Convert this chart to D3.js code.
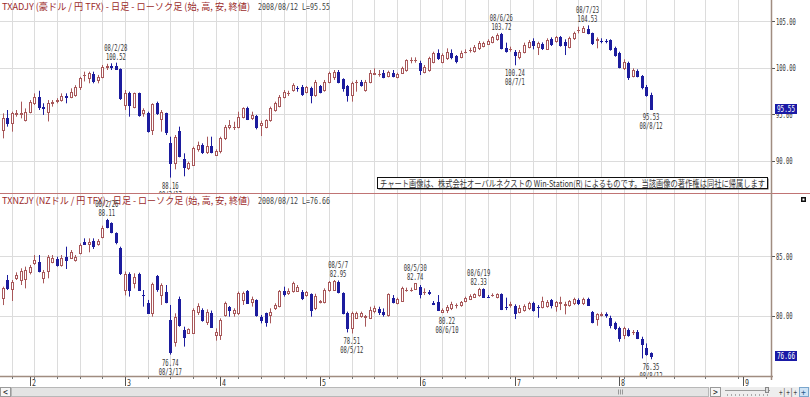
<!DOCTYPE html>
<html>
<head>
<meta charset="utf-8">
<script src="https://cdn.jsdelivr.net/npm/d3@7"></script>
<style>
  body { margin: 0; background: #fff; }
  svg { display: block; }
</style>
</head>
<body>
<div id="wrapper"></div>
<script>
// ---- data ----
// AUD/JPY daily candles, 2008/01/24 .. 2008/08/12 (trading day index 0..143)
const audOpen = [93.28,94.53,94.0,95.0,95.05,94.35,95.25,96.15,96.86,95.79,95.25,96.15,96.45,96.5,96.9,96.86,97.05,97.85,99.2,98.84,99.3,98.66,99.01,100.1,100.15,100.15,99.8,95.97,97.3,95.79,97.22,95.07,95.07,93.28,96.22,94.43,95.07,91.92,89.7,93.21,90.12,89.16,89.52,91.2,91.67,90.95,91.56,90.6,91.06,92.38,93.57,93.6,93.64,94.71,95.61,94.53,94.79,93.82,93.64,94.35,95.43,95.86,96.86,97.25,97.58,97.8,97.87,97.4,97.83,97.04,98.0,97.58,98.48,99.01,99.55,98.73,98.0,97.04,98.4,98.48,97.58,98.48,99.3,99.3,99.37,99.08,99.44,99.01,99.44,99.73,100.8,100.8,100.52,99.55,99.73,100.63,101.52,100.63,100.99,101.52,101.23,101.16,101.7,101.85,101.81,102.06,102.31,102.53,102.78,103.03,103.6,102.06,101.95,101.7,101.09,101.7,102.24,102.89,102.24,102.53,101.95,103.03,102.88,103.24,102.78,102.24,103.14,104.0,103.85,104.18,103.67,103.0,102.9,102.88,102.96,102.06,101.6,99.91,100.52,99.08,99.66,99.08,97.87,97.04];
const audHigh = [95.07,95.43,95.25,95.43,96.33,95.6,96.5,97.22,97.5,96.15,96.5,96.5,96.7,97.22,97.22,97.76,98.1,99.0,99.55,99.55,99.55,99.2,100.27,100.4,100.45,100.52,99.9,97.58,97.4,97.3,97.3,95.61,95.25,96.15,96.33,95.43,95.14,92.56,92.74,93.64,90.77,89.88,91.49,92.03,91.85,92.56,92.56,91.2,92.56,93.82,94.35,94.17,95.25,95.72,95.79,95.25,94.9,94.28,94.43,95.79,96.33,97.04,97.58,97.5,98.3,98.0,98.12,98.0,97.94,98.66,98.12,98.66,99.55,99.73,99.73,98.84,98.12,98.48,98.66,98.66,98.66,99.73,99.91,99.73,99.73,99.66,99.73,99.44,100.09,100.88,101.09,101.09,100.73,100.27,101.16,101.7,101.95,101.52,102.06,101.95,101.34,101.81,101.95,102.13,102.42,102.85,102.78,103.03,103.39,103.67,103.72,102.67,102.24,101.88,101.88,102.67,102.96,103.14,102.78,102.7,103.14,103.24,103.39,103.39,103.03,103.32,103.85,104.39,104.46,104.53,103.75,103.24,103.14,103.06,103.03,102.24,101.7,100.88,100.63,99.91,99.8,99.19,98.12,97.29];
const audLow = [92.38,93.64,93.1,94.71,94.53,94.2,95.07,95.97,95.43,94.9,94.2,95.79,96.15,96.33,96.15,96.7,96.86,97.58,98.5,98.3,98.3,98.3,98.84,99.73,99.73,99.73,96.51,95.43,94.71,95.61,94.71,94.71,93.0,92.74,94.9,93.1,92.74,88.16,89.05,90.34,88.3,88.98,89.41,90.95,90.7,90.7,90.77,90.48,90.77,92.2,93.35,93.28,93.46,94.53,94.35,94.35,93.35,92.63,93.46,94.17,95.25,95.72,96.68,96.94,97.4,97.4,96.94,97.22,96.15,96.86,97.22,97.4,98.3,98.66,98.3,97.4,96.33,96.33,97.4,97.94,97.4,98.3,99.19,99.01,98.84,98.94,98.94,98.84,99.3,99.55,100.45,100.52,99.19,99.37,99.55,100.45,100.81,100.45,100.81,100.88,100.45,100.99,101.52,101.6,101.6,101.88,102.17,102.42,102.6,102.88,101.95,101.6,101.7,100.24,100.88,101.52,102.06,101.95,101.34,101.88,101.88,102.31,102.67,102.24,101.34,102.06,102.96,103.67,103.75,103.57,102.42,102.06,102.6,102.6,101.81,101.16,99.91,99.73,98.66,98.94,98.94,97.65,96.86,95.53];
const audClose = [94.53,94.0,95.07,95.07,95.1,95.25,96.33,96.86,95.79,95.65,96.15,96.33,96.5,96.95,96.86,97.4,97.94,98.84,99.2,99.37,98.6,99.01,100.09,100.15,100.1,99.85,96.68,97.3,95.97,97.22,94.9,95.43,93.21,96.08,95.07,95.25,93.1,89.7,92.49,90.48,89.34,89.7,91.31,91.67,90.95,91.56,90.95,91.06,92.38,93.64,93.82,93.64,94.71,95.61,94.43,94.9,93.64,94.07,94.35,95.61,96.15,96.86,97.4,97.3,98.12,97.76,97.15,97.87,97.04,98.48,97.4,98.48,99.37,99.55,98.48,97.76,97.04,98.3,98.48,98.12,98.48,99.37,99.37,99.3,99.01,99.55,99.08,99.3,99.91,100.81,100.81,100.81,99.73,100.09,100.99,101.52,100.99,101.34,101.7,101.09,100.73,101.59,101.7,101.88,102.24,102.67,102.6,102.88,103.24,103.53,102.06,101.81,101.95,101.34,101.7,102.42,102.78,102.42,102.6,102.06,102.96,102.53,103.24,102.42,102.42,103.14,103.75,104.03,104.21,103.67,102.67,103.03,102.89,102.85,101.95,101.34,100.09,100.63,99.01,99.73,99.08,97.94,97.04,95.55];

// NZD/JPY daily candles, same days
const nzdOpen = [81.45,82.99,82.23,83.18,82.99,83.07,83.63,84.39,84.53,83.13,83.74,84.53,84.75,84.25,84.94,84.86,84.66,85.22,86.2,85.98,86.26,85.98,86.62,88.02,87.74,86.9,85.7,82.15,83.5,82.71,83.5,81.75,81.1,80.26,83.33,81.74,82.02,79.64,77.83,81.37,78.8,78.58,78.53,80.34,80.48,79.5,80.26,78.39,78.39,80.06,80.7,80.2,80.2,81.32,82.1,81.18,81.32,79.92,80.2,80.06,80.62,80.81,82.1,81.93,82.1,82.1,82.01,81.73,81.79,80.61,81.12,81.12,82.15,82.15,82.85,81.87,80.2,78.94,79.83,80.0,79.92,79.83,80.39,80.56,80.34,80.06,81.51,81.03,81.23,82.12,82.15,82.23,82.43,82.0,81.96,81.03,81.12,80.28,80.47,80.61,80.89,80.89,81.23,81.4,81.59,81.73,82.23,81.6,81.71,81.59,81.79,80.77,80.93,80.84,80.28,80.47,80.61,81.03,80.77,80.75,80.84,81.28,80.84,81.1,80.93,80.89,81.03,81.34,81.03,81.4,80.28,79.72,80.09,80.12,79.83,79.36,78.99,78.38,78.8,78.6,78.6,78.04,77.26,76.85];
const nzdHigh = [82.43,83.41,82.99,83.63,83.97,84.11,84.25,85.08,85.08,83.83,85.08,85.08,84.94,85.08,85.78,85.5,85.08,86.06,86.48,86.48,86.48,86.42,87.54,88.11,87.82,86.98,85.78,83.7,83.63,83.55,83.6,82.15,81.32,82.77,83.41,82.71,82.57,80.9,80.2,81.6,79.08,78.94,80.62,81.04,80.62,80.53,80.43,78.94,79.78,81.18,80.81,80.62,82.02,82.02,82.15,81.6,81.37,80.06,80.26,80.62,81.04,82.15,82.43,82.29,82.85,82.57,82.15,82.07,81.87,81.84,81.31,82.29,82.9,82.99,82.95,81.96,80.34,80.34,80.34,80.34,80.06,80.75,80.84,80.75,80.61,81.87,81.73,81.51,82.43,82.35,82.35,82.74,82.57,82.29,82.15,81.23,81.73,80.61,80.89,81.17,81.03,81.23,81.59,81.79,81.87,82.33,82.29,81.73,81.87,81.87,81.87,81.51,81.17,80.95,80.89,80.95,81.17,81.17,80.89,81.59,81.31,81.4,81.23,81.59,81.17,81.31,81.51,81.45,81.51,81.51,80.39,80.2,80.28,80.28,80.0,79.5,79.08,79.08,78.94,78.8,78.8,78.24,77.68,76.93];
const nzdLow = [80.89,82.15,81.23,82.99,82.57,82.29,83.46,84.25,83.63,82.71,83.13,84.39,84.11,84.11,83.91,84.75,84.53,85.14,85.92,85.31,85.59,85.87,86.48,87.32,86.9,85.98,83.41,81.7,81.6,82.29,82.1,80.76,80.2,79.92,82.0,80.9,81.04,76.74,77.41,79.08,77.41,78.47,78.47,80.06,79.5,79.22,79.03,77.91,77.97,79.92,79.92,79.92,80.06,80.9,81.0,80.76,79.92,79.36,79.08,79.36,80.48,80.7,81.6,81.74,81.93,82.01,81.31,81.59,79.92,80.47,81.03,81.03,82.01,82.07,81.87,80.11,78.6,78.51,79.72,79.83,79.08,79.72,80.2,80.06,79.92,79.92,81.03,80.95,81.17,82.01,82.01,82.15,81.45,81.73,81.73,80.89,80.39,80.3,80.22,80.47,80.61,80.75,81.12,81.31,81.51,81.59,81.51,81.51,81.59,81.45,80.47,80.47,80.67,79.72,80.2,80.34,80.47,80.34,79.83,80.61,80.67,80.61,80.34,80.47,80.11,80.75,80.89,80.89,80.89,80.84,79.36,79.16,79.92,79.83,78.94,78.8,77.82,78.04,78.24,78.38,78.04,76.42,76.65,76.35];
const nzdClose = [82.29,82.29,82.79,83.41,83.74,83.83,84.11,84.66,83.74,83.63,84.94,84.8,84.25,84.86,84.66,85.31,84.94,85.92,86.01,86.2,85.87,86.26,87.37,87.46,87.04,86.2,83.55,83.5,82.15,83.27,82.15,81.73,80.26,82.66,82.21,82.57,81.18,76.99,79.92,79.22,78.25,78.86,80.48,80.81,79.64,80.34,79.08,78.67,79.64,81.04,80.48,80.48,81.87,81.87,81.04,81.37,80.06,79.64,79.5,80.34,80.9,82.1,81.82,82.1,82.71,82.43,81.51,81.96,80.47,81.68,81.23,82.15,82.79,82.9,82.01,80.2,78.99,80.2,80.2,80.2,79.95,80.47,80.61,80.28,80.11,81.79,81.17,81.4,82.35,82.15,82.18,82.71,81.79,82.01,81.93,81.0,80.47,80.47,80.75,80.95,80.92,81.12,81.45,81.68,81.79,82.23,81.59,81.59,81.73,81.79,80.56,80.75,80.95,80.2,80.67,80.84,81.03,80.47,80.75,81.23,81.17,80.89,81.12,81.12,80.95,81.23,81.37,81.03,81.4,80.89,79.44,80.11,80.11,80.09,79.22,78.99,78.16,78.99,78.38,78.6,78.16,77.6,76.76,76.66];

// high / low markers
const audNoteIndex = [25, 37, 110, 113, 129, 143];
const audNoteSide = ["high", "low", "high", "low", "high", "low"];
const audNoteDate = ["08/2/28", "08/3/17", "08/6/26", "08/7/1", "08/7/23", "08/8/12"];
const nzdNoteIndex = [23, 37, 74, 77, 91, 98, 105, 143];
const nzdNoteSide = ["high", "low", "high", "low", "high", "low", "high", "low"];
const nzdNoteDate = ["08/2/26", "08/3/17", "08/5/7", "08/5/12", "08/5/30", "08/6/10", "08/6/19", "08/8/12"];

// price axis ticks
const audTicks = [90, 95, 100, 105];
const nzdTicks = [80, 85];

// time axis: month labels at the first trading day of each month, week grid on mondays
const monthLabels = ["2", "3", "4", "5", "6", "7", "8", "9"];
const monthIndex = [6, 27, 48, 70, 92, 113, 136, 163.3];
const weekIndex = d3.range(2, 143, 5).concat([148.1, 155, 162.2]);

const audTitle = "TXADJY (豪ドル / 円 TFX) - 日足 - ローソク足 (始, 高, 安, 終値)";
const nzdTitle = "TXNZJY (NZドル / 円 TFX) - 日足 - ローソク足 (始, 高, 安, 終値)";
const lastDate = "2008/08/12";
const notice = "チャート画像は、株式会社オーバルネクストの Win-Station(R) によるものです。当該画像の著作権は同社に帰属します";

// ---- layout ----
let dimensions = {
  width: 810,
  height: 397,
  axisX: 771,
  split: 193,
  bottom: 376
}

const upColor = "#a8585a";
const downColor = "#1c1c9e";
const gridColor = "#dcdcdc";
const axisColor = "#a08c80";
const monoFont = "'DejaVu Sans Mono', monospace";
const jpFont = "'Noto Sans CJK JP', sans-serif";

let wrapper = d3.select("#wrapper").append("svg")
  .attr("width", dimensions.width)
  .attr("height", dimensions.height)
  .style("background", "#fff");

const xScale = d3.scaleLinear().domain([0, 143]).range([2.5, 651]);

const panels = [
  {
    name: "aud", top: 0, bottom: dimensions.split,
    y: d3.scaleLinear().domain([90, 105]).range([160.5, 21]),
    open: audOpen, high: audHigh, low: audLow, close: audClose,
    ticks: audTicks, title: audTitle, titleY: 10,
    noteIndex: audNoteIndex, noteSide: audNoteSide, noteDate: audNoteDate
  },
  {
    name: "nzd", top: dimensions.split + 0.5, bottom: dimensions.bottom,
    y: d3.scaleLinear().domain([80, 85]).range([315.7, 256]),
    open: nzdOpen, high: nzdHigh, low: nzdLow, close: nzdClose,
    ticks: nzdTicks, title: nzdTitle, titleY: 204,
    noteIndex: nzdNoteIndex, noteSide: nzdNoteSide, noteDate: nzdNoteDate
  }
];

const defs = wrapper.append("defs");

function monoText(sel, str, size) {
  return sel.text(str)
    .style("font-family", monoFont)
    .style("font-size", (size || 9.5) + "px")
    .attr("textLength", str.length * 3.3)
    .attr("lengthAdjust", "spacingAndGlyphs");
}

function drawPanel(p) {
  defs.append("clipPath").attr("id", "clip-" + p.name)
    .append("rect")
    .attr("x", 0).attr("y", p.top)
    .attr("width", dimensions.axisX).attr("height", p.bottom - p.top);

  const g = wrapper.append("g").attr("clip-path", `url(#clip-${p.name})`);

  // grid
  g.selectAll("line.vgrid").data(weekIndex).join("line")
    .attr("class", "vgrid")
    .attr("x1", d => Math.round(xScale(d)) + 0.5)
    .attr("x2", d => Math.round(xScale(d)) + 0.5)
    .attr("y1", p.top).attr("y2", p.bottom)
    .attr("stroke", gridColor);
  g.selectAll("line.hgrid").data(p.ticks).join("line")
    .attr("class", "hgrid")
    .attr("x1", 0).attr("x2", dimensions.axisX)
    .attr("y1", d => Math.round(p.y(d)) + 0.5)
    .attr("y2", d => Math.round(p.y(d)) + 0.5)
    .attr("stroke", gridColor);

  // title
  const title = g.append("text")
    .attr("x", 2).attr("y", p.titleY)
    .attr("fill", "#9b2b2b")
    .style("font-family", jpFont)
    .style("font-size", "9.5px")
    .attr("textLength", 248)
    .attr("lengthAdjust", "spacingAndGlyphs")
    .text(p.title);
  const last = p.close[p.close.length - 1].toFixed(2);
  monoText(g.append("text"), `${lastDate} L=${last}`)
    .attr("x", 258).attr("y", p.titleY)
    .attr("fill", "#444")
    .attr("textLength", 72);

  // candles
  const idx = d3.range(p.open.length);
  const candle = g.selectAll("g.candle").data(idx).join("g").attr("class", "candle");
  const colorOf = i => p.close[i] >= p.open[i] ? upColor : downColor;
  candle.append("line")
    .attr("x1", i => Math.round(xScale(i)) + 0.5)
    .attr("x2", i => Math.round(xScale(i)) + 0.5)
    .attr("y1", i => p.y(p.high[i]))
    .attr("y2", i => p.y(p.low[i]))
    .attr("stroke", colorOf);
  candle.append("rect")
    .attr("x", i => Math.round(xScale(i)) - 0.5)
    .attr("width", 2)
    .attr("y", i => Math.round(p.y(Math.max(p.open[i], p.close[i]))) + 0.5)
    .attr("height", i => Math.max(0.01, Math.round(p.y(Math.min(p.open[i], p.close[i]))) - Math.round(p.y(Math.max(p.open[i], p.close[i])))))
    .attr("fill", i => p.close[i] >= p.open[i] ? "#fff" : downColor)
    .attr("stroke", colorOf)
    .attr("stroke-width", 1);

  // high / low notes
  p.noteIndex.forEach((i, k) => {
    const cx = xScale(i);
    const isHigh = p.noteSide[k] === "high";
    const price = (isHigh ? p.high[i] : p.low[i]).toFixed(2);
    const py = p.y(isHigh ? p.high[i] : p.low[i]);
    const lines = isHigh ? [p.noteDate[k], price] : [price, p.noteDate[k]];
    const ys = isHigh ? [py - 12, py - 3] : [py + 11, py + 20];
    lines.forEach((str, j) => {
      monoText(g.append("text"), str)
        .attr("x", cx).attr("y", ys[j])
        .attr("text-anchor", "middle")
        .attr("fill", "#333");
    });
  });

  // price axis
  const ax = wrapper.append("g");
  ax.selectAll("line").data(p.ticks).join("line")
    .attr("x1", dimensions.axisX).attr("x2", dimensions.axisX + 4)
    .attr("y1", d => Math.round(p.y(d)) + 0.5)
    .attr("y2", d => Math.round(p.y(d)) + 0.5)
    .attr("stroke", "#555");
  ax.selectAll("text").data(p.ticks).join("text")
    .each(function (d) { monoText(d3.select(this), d.toFixed(2)); })
    .attr("x", dimensions.axisX + 5)
    .attr("y", d => p.y(d) + 3.5)
    .attr("fill", "#333");

  // last price tag
  const ly = p.y(+last);
  ax.append("rect")
    .attr("x", dimensions.axisX + 4).attr("y", Math.round(ly) - 5)
    .attr("width", 22).attr("height", 10)
    .attr("fill", "#1a1aa6");
  monoText(ax.append("text"), last)
    .attr("x", dimensions.axisX + 6).attr("y", ly + 3.5)
    .attr("fill", "#fff")
    .attr("textLength", 18);
}

panels.forEach(drawPanel);

// notice box
wrapper.append("rect")
  .attr("x", 378.5).attr("y", 178.5).attr("width", 390).attr("height", 11)
  .attr("fill", "#555");
wrapper.append("rect")
  .attr("x", 377.5).attr("y", 177.5).attr("width", 390).attr("height", 11)
  .attr("fill", "#fff").attr("stroke", "#111");
wrapper.append("text")
  .attr("x", 380).attr("y", 186.5)
  .attr("fill", "#333")
  .style("font-family", jpFont)
  .style("font-size", "9px")
  .attr("textLength", 385)
  .attr("lengthAdjust", "spacingAndGlyphs")
  .text(notice);

// frame lines
wrapper.append("line")
  .attr("x1", 0).attr("x2", dimensions.width)
  .attr("y1", dimensions.split + 0.5).attr("y2", dimensions.split + 0.5)
  .attr("stroke", "#c07474");
wrapper.append("line")
  .attr("x1", 0).attr("x2", dimensions.axisX + 2)
  .attr("y1", dimensions.bottom + 0.5).attr("y2", dimensions.bottom + 0.5)
  .attr("stroke", axisColor).attr("stroke-width", 1.5);
wrapper.append("line")
  .attr("x1", dimensions.axisX + 0.5).attr("x2", dimensions.axisX + 0.5)
  .attr("y1", 0).attr("y2", dimensions.bottom + 4)
  .attr("stroke", axisColor).attr("stroke-width", 1.5);

// small square icon
wrapper.append("rect").attr("x", 801).attr("y", 197).attr("width", 5).attr("height", 5).attr("fill", "#111");
wrapper.append("rect").attr("x", 802.5).attr("y", 198.5).attr("width", 2).attr("height", 2).attr("fill", "#fff");

// time axis
const tAxis = wrapper.append("g");
tAxis.selectAll("line.week").data(weekIndex).join("line")
  .attr("class", "week")
  .attr("x1", d => Math.round(xScale(d)) + 0.5)
  .attr("x2", d => Math.round(xScale(d)) + 0.5)
  .attr("y1", dimensions.bottom + 1).attr("y2", dimensions.bottom + 3)
  .attr("stroke", "#777");
tAxis.selectAll("line.month").data(monthIndex).join("line")
  .attr("class", "month")
  .attr("x1", d => Math.round(xScale(d)) + 0.5)
  .attr("x2", d => Math.round(xScale(d)) + 0.5)
  .attr("y1", dimensions.bottom + 1).attr("y2", dimensions.bottom + 10)
  .attr("stroke", "#555");
tAxis.selectAll("text").data(monthLabels).join("text")
  .attr("x", (d, i) => Math.round(xScale(monthIndex[i])) + 2)
  .attr("y", dimensions.bottom + 9.5)
  .attr("fill", "#333")
  .style("font-family", monoFont)
  .style("font-size", "9px")
  .attr("textLength", 4)
  .attr("lengthAdjust", "spacingAndGlyphs")
  .text(d => d);

// scroll bar
const bar = wrapper.append("g");
bar.append("rect").attr("x", 0).attr("y", 387).attr("width", 810).attr("height", 10).attr("fill", "#eeeeee");
bar.append("rect").attr("x", 0.5).attr("y", 387.5).attr("width", 10).attr("height", 9)
  .attr("fill", "#f6f6f6").attr("stroke", "#9a9a9a");
bar.append("text").attr("x", 3).attr("y", 395).attr("fill", "#222")
  .style("font-family", monoFont).style("font-size", "8px").text("<");
bar.append("rect").attr("x", 11.5).attr("y", 387.5).attr("width", 697).attr("height", 9)
  .attr("fill", "#e4e4e4").attr("stroke", "#b8b8b8");
bar.selectAll("line.grip").data([-2, 0, 2]).join("line")
  .attr("x1", d => 620.5 + d).attr("x2", d => 620.5 + d)
  .attr("y1", 389.5).attr("y2", 394.5)
  .attr("stroke", "#999");
bar.append("rect").attr("x", 710.5).attr("y", 387.5).attr("width", 10).attr("height", 9)
  .attr("fill", "#f6f6f6").attr("stroke", "#9a9a9a");
bar.append("text").attr("x", 713).attr("y", 395).attr("fill", "#222")
  .style("font-family", monoFont).style("font-size", "8px").text(">");
bar.append("line").attr("x1", 725).attr("x2", 770).attr("y1", 390.5).attr("y2", 390.5).attr("stroke", "#999");
bar.selectAll("line.dot").data(d3.range(727, 770, 4)).join("line")
  .attr("x1", d => d + 0.5).attr("x2", d => d + 0.5)
  .attr("y1", 394).attr("y2", 396)
  .attr("stroke", "#aaa");
bar.append("rect").attr("x", 765.5).attr("y", 387.5).attr("width", 3).attr("height", 5)
  .attr("fill", "#ddd").attr("stroke", "#888");
bar.append("text").attr("x", 779).attr("y", 395).attr("fill", "#444")
  .style("font-family", monoFont).style("font-size", "8px")
  .attr("textLength", 18).attr("lengthAdjust", "spacingAndGlyphs").text("+|+|+");
bar.append("rect").attr("x", 799.5).attr("y", 387.5).attr("width", 9).attr("height", 9)
  .attr("fill", "#cfe3f5").attr("stroke", "#7aa6cc");
bar.append("text").attr("x", 801).attr("y", 395).attr("fill", "#2a5c8a")
  .style("font-family", monoFont).style("font-size", "8px").text("+");
</script>
</body>
</html>
